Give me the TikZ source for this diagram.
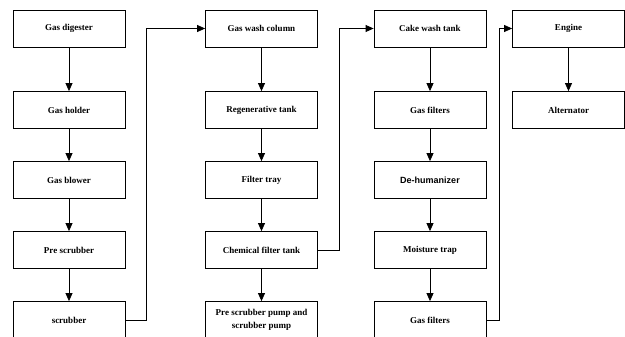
\documentclass[tikz,border=0pt]{standalone}
\usepackage{fontspec}
\setmainfont{Liberation Serif}
\newfontfamily\dehfont{Liberation Sans}
\usetikzlibrary{arrows.meta}

\begin{document}
\begin{tikzpicture}[x=1pt,y=-1pt,node distance=70pt,
    box/.style={draw=black,line width=0.8pt,minimum width=112pt,minimum height=37pt,
      inner sep=2pt,align=center,font=\fontsize{9}{12.5}\selectfont\bfseries},
    flow/.style={-{Triangle[length=8pt,width=7pt]},line width=0.8pt}]
         \useasboundingbox (0,0) rectangle (625,337);

         % first column
         \node[box,name=gd] at (69,28.5) {Gas digester};
         \node[box,name=gh,node distance=81.5pt,below of = gd] {Gas holder};
         \node[box,name=gb,below of = gh] {Gas blower};
         \node[box,name=ps,below of = gb] {Pre scrubber};
         \node[box,name=sc,below of = ps] {scrubber};

         % second column
         \node[box,name=gwc] at (261.5,28.5) {Gas wash column};
         \node[box,name=rt,node distance=81.5pt,below of = gwc] {Regenerative tank};
         \node[box,name=ft,below of = rt] {Filter tray};
         \node[box,name=cft,below of = ft] {Chemical filter tank};
         \node[box,name=psp,below of = cft] {Pre scrubber pump and\\scrubber pump};

         % third column
         \node[box,name=cwt] at (430,28.5) {Cake wash tank};
         \node[box,name=gfa,node distance=81.5pt,below of = cwt] {Gas filters};
         \node[box,name=dh,below of = gfa] {\dehfont De-humanizer};
         \node[box,name=mt,below of = dh] {Moisture trap};
         \node[box,name=gfb,below of = mt] {Gas filters};

         % fourth column
         \node[box,name=en] at (568.5,28.5) {Engine};
         \node[box,name=alt,node distance=81.5pt,below of = en] {Alternator};

         \path[flow]
            (gd)  edge (gh)
            (gh)  edge (gb)
            (gb)  edge (ps)
            (ps)  edge (sc)
            (gwc) edge (rt)
            (rt)  edge (ft)
            (ft)  edge (cft)
            (cft) edge (psp)
            (cwt) edge (gfa)
            (gfa) edge (dh)
            (dh)  edge (mt)
            (mt)  edge (gfb)
            (en)  edge (alt);

         \draw[flow] (sc.east) -- ++(21pt,0) |- (gwc.west);
         \draw[flow] (cft.east) -- ++(21pt,0) |- (cwt.west);
         \draw[flow] (gfb.east) -- ++(13pt,0) |- (en.west);
      \end{tikzpicture}
\end{document}
